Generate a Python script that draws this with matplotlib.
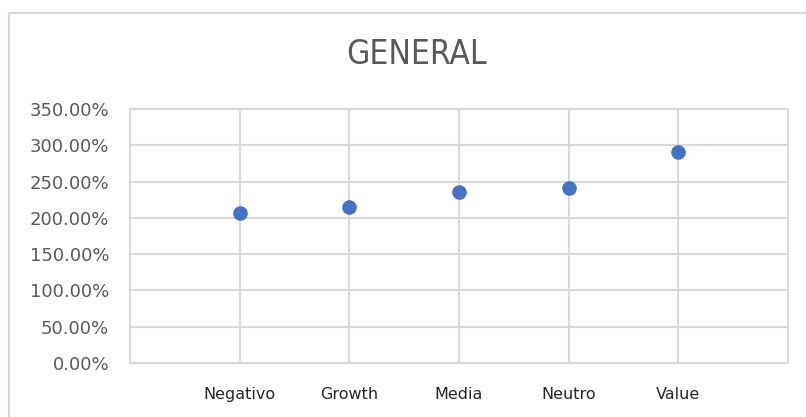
import matplotlib.pyplot as plt
import numpy as np
from matplotlib.patches import Rectangle
from matplotlib.ticker import PercentFormatter

categories = ['Negativo', 'Growth', 'Media', 'Neutro', 'Value']
values = [2.07, 2.145, 2.36, 2.415, 2.905]
y_ticks = [0, 0.5, 1.0, 1.5, 2.0, 2.5, 3.0, 3.5]

grid_color = '#d9d9d9'
text_color = '#595959'

fig = plt.figure(figsize=(8.06, 4.17), dpi=100)

# outer chart border (excel style)
fig.patches.append(Rectangle((9 / 806, -0.05), 1.0, (417 - 13) / 417 + 0.05,
                             transform=fig.transFigure, fill=False,
                             edgecolor=grid_color, linewidth=1.5))

ax = fig.add_axes([130 / 806, (417 - 363) / 417, (788 - 130) / 806, (363 - 109) / 417])

x = np.arange(1, len(categories) + 1)
ax.plot(x, values, linestyle='none', marker='o', markersize=9.5,
        color='#4472c4', zorder=3)

ax.set_xlim(0, len(categories) + 1)
ax.set_ylim(0, 3.5)
ax.set_yticks(y_ticks)
ax.yaxis.set_major_formatter(PercentFormatter(xmax=1, decimals=2))
ax.set_xticks(x)
ax.set_xticklabels(categories)

ax.grid(True, color=grid_color, linewidth=1.5)
ax.set_axisbelow(True)
for s in ax.spines.values():
    s.set_color(grid_color)
    s.set_linewidth(1.5)

ax.tick_params(axis='both', length=0)
ax.tick_params(axis='y', pad=15, labelsize=13, labelcolor=text_color)
ax.tick_params(axis='x', pad=17, labelsize=11.5, labelcolor='#262626')

fig.text(417 / 806, 1 - 55 / 417, 'GENERAL', ha='center', va='center',
         fontsize=24, color=text_color, fontstretch='condensed',
         family=['DejaVu Sans'])

fig.savefig('out.png', dpi=100)
